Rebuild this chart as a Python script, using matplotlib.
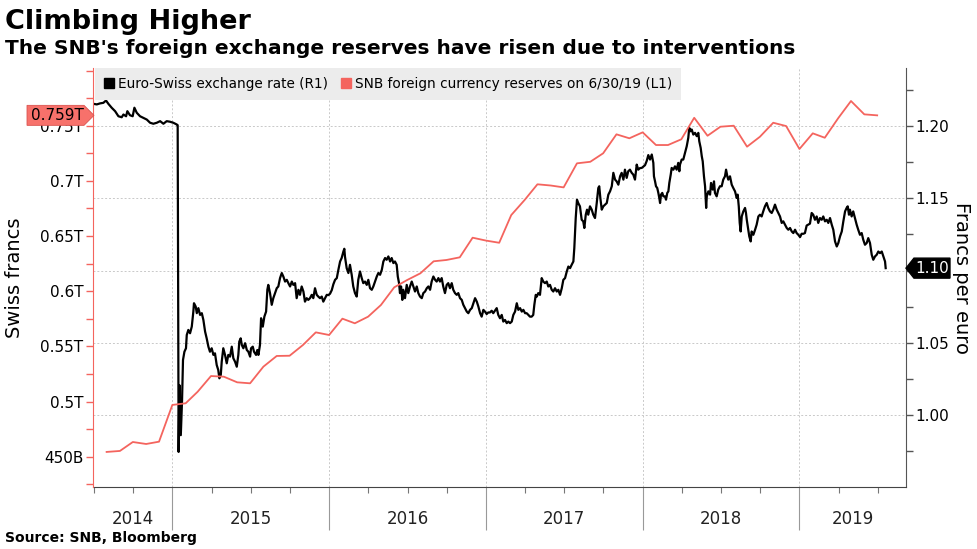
import numpy as np
import pandas as pd
import matplotlib
matplotlib.use('Agg')
import matplotlib.pyplot as plt
from matplotlib.lines import Line2D
from matplotlib.patches import Polygon
from matplotlib.transforms import IdentityTransform, blended_transform_factory

# SNB foreign currency reserves (CHF trillions), month ends from Jul 2014 to Jun 2019
res_start = '2014-07-31'
reserves = [0.4543, 0.4552, 0.4633, 0.4615, 0.4636, 0.4969,
            0.4984, 0.5089, 0.5231, 0.5225, 0.5174, 0.5165, 0.5316, 0.5413, 0.5415, 0.5512, 0.5627, 0.5603,
            0.5751, 0.5709, 0.5769, 0.5875, 0.6035, 0.6101, 0.6162, 0.6271, 0.6283, 0.6307, 0.6485, 0.6459,
            0.6439, 0.6690, 0.6826, 0.6969, 0.6958, 0.6941, 0.7159, 0.7173, 0.7250, 0.7422, 0.7386, 0.7440,
            0.7325, 0.7325, 0.7377, 0.7572, 0.7409, 0.7491, 0.7500, 0.7310, 0.7400, 0.7527, 0.7497, 0.7289,
            0.7431, 0.7391, 0.7567, 0.7724, 0.7603, 0.7594]

# EUR/CHF (decimal years, francs per euro)
fx_t = [2014.496, 2014.518, 2014.539, 2014.560, 2014.577, 2014.592, 2014.613, 2014.635, 2014.656, 2014.677,
        2014.688, 2014.705, 2014.713, 2014.730, 2014.747, 2014.758, 2014.773, 2014.794, 2014.815, 2014.837,
        2014.858, 2014.879, 2014.901, 2014.922, 2014.943, 2014.964, 2014.985, 2015.006, 2015.028, 2015.034,
        2015.040, 2015.045, 2015.054, 2015.062, 2015.068, 2015.077, 2015.087, 2015.092, 2015.102, 2015.113,
        2015.124, 2015.134, 2015.138, 2015.149, 2015.156, 2015.166, 2015.177, 2015.188, 2015.198, 2015.209,
        2015.219, 2015.230, 2015.240, 2015.251, 2015.262, 2015.272, 2015.283, 2015.293, 2015.300, 2015.309,
        2015.315, 2015.325, 2015.336, 2015.347, 2015.357, 2015.368, 2015.379, 2015.389, 2015.400, 2015.411,
        2015.421, 2015.427, 2015.436, 2015.443, 2015.453, 2015.464, 2015.475, 2015.485, 2015.496, 2015.502,
        2015.513, 2015.521, 2015.534, 2015.542, 2015.549, 2015.559, 2015.566, 2015.577, 2015.587, 2015.598,
        2015.606, 2015.612, 2015.623, 2015.634, 2015.644, 2015.655, 2015.666, 2015.676, 2015.687, 2015.698,
        2015.708, 2015.719, 2015.730, 2015.740, 2015.751, 2015.762, 2015.772, 2015.783, 2015.793, 2015.804,
        2015.814, 2015.825, 2015.836, 2015.846, 2015.857, 2015.867, 2015.878, 2015.889, 2015.899, 2015.910,
        2015.921, 2015.931, 2015.942, 2015.953, 2015.963, 2015.974, 2015.985, 2015.995, 2016.006, 2016.017,
        2016.027, 2016.038, 2016.049, 2016.059, 2016.070, 2016.080, 2016.091, 2016.097, 2016.101, 2016.112,
        2016.123, 2016.133, 2016.144, 2016.154, 2016.165, 2016.176, 2016.186, 2016.197, 2016.208, 2016.218,
        2016.229, 2016.240, 2016.250, 2016.261, 2016.272, 2016.282, 2016.293, 2016.304, 2016.314, 2016.325,
        2016.336, 2016.346, 2016.357, 2016.367, 2016.378, 2016.389, 2016.399, 2016.410, 2016.420, 2016.431,
        2016.438, 2016.446, 2016.452, 2016.459, 2016.467, 2016.473, 2016.484, 2016.495, 2016.505, 2016.516,
        2016.527, 2016.537, 2016.548, 2016.559, 2016.569, 2016.580, 2016.591, 2016.601, 2016.612, 2016.623,
        2016.633, 2016.644, 2016.654, 2016.665, 2016.676, 2016.686, 2016.697, 2016.707, 2016.718, 2016.728,
        2016.739, 2016.750, 2016.760, 2016.771, 2016.782, 2016.792, 2016.803, 2016.814, 2016.824, 2016.835,
        2016.846, 2016.856, 2016.867, 2016.878, 2016.888, 2016.899, 2016.910, 2016.920, 2016.931, 2016.942,
        2016.952, 2016.963, 2016.973, 2016.984, 2016.994, 2017.005, 2017.015, 2017.026, 2017.037, 2017.047,
        2017.058, 2017.069, 2017.079, 2017.090, 2017.101, 2017.111, 2017.122, 2017.133, 2017.143, 2017.154,
        2017.165, 2017.175, 2017.186, 2017.197, 2017.207, 2017.218, 2017.229, 2017.239, 2017.250, 2017.260,
        2017.271, 2017.281, 2017.292, 2017.302, 2017.309, 2017.318, 2017.325, 2017.334, 2017.345, 2017.356,
        2017.366, 2017.377, 2017.388, 2017.398, 2017.409, 2017.420, 2017.430, 2017.441, 2017.452, 2017.462,
        2017.473, 2017.484, 2017.494, 2017.505, 2017.516, 2017.526, 2017.537, 2017.547, 2017.558, 2017.564,
        2017.573, 2017.581, 2017.589, 2017.600, 2017.611, 2017.621, 2017.628, 2017.637, 2017.645, 2017.653,
        2017.664, 2017.675, 2017.685, 2017.696, 2017.707, 2017.717, 2017.723, 2017.730, 2017.739, 2017.749,
        2017.760, 2017.771, 2017.781, 2017.792, 2017.803, 2017.813, 2017.824, 2017.834, 2017.845, 2017.856,
        2017.866, 2017.877, 2017.887, 2017.898, 2017.908, 2017.919, 2017.930, 2017.940, 2017.951, 2017.962,
        2017.972, 2017.983, 2017.994, 2018.004, 2018.015, 2018.026, 2018.036, 2018.047, 2018.058, 2018.068,
        2018.072, 2018.079, 2018.085, 2018.093, 2018.100, 2018.106, 2018.111, 2018.117, 2018.125, 2018.132,
        2018.142, 2018.149, 2018.157, 2018.164, 2018.170, 2018.179, 2018.185, 2018.196, 2018.206, 2018.217,
        2018.227, 2018.234, 2018.238, 2018.249, 2018.259, 2018.270, 2018.281, 2018.291, 2018.297, 2018.306,
        2018.313, 2018.323, 2018.334, 2018.345, 2018.355, 2018.361, 2018.370, 2018.377, 2018.383, 2018.391,
        2018.398, 2018.405, 2018.409, 2018.419, 2018.430, 2018.436, 2018.447, 2018.455, 2018.461, 2018.472,
        2018.482, 2018.493, 2018.504, 2018.514, 2018.525, 2018.532, 2018.540, 2018.546, 2018.557, 2018.568,
        2018.578, 2018.589, 2018.600, 2018.606, 2018.613, 2018.619, 2018.625, 2018.632, 2018.642, 2018.653,
        2018.659, 2018.664, 2018.674, 2018.680, 2018.689, 2018.695, 2018.706, 2018.717, 2018.727, 2018.738,
        2018.748, 2018.759, 2018.769, 2018.780, 2018.791, 2018.801, 2018.812, 2018.823, 2018.833, 2018.844,
        2018.855, 2018.865, 2018.876, 2018.887, 2018.897, 2018.908, 2018.919, 2018.929, 2018.940, 2018.951,
        2018.961, 2018.972, 2018.982, 2018.993, 2019.004, 2019.014, 2019.025, 2019.035, 2019.046, 2019.056,
        2019.067, 2019.078, 2019.088, 2019.099, 2019.110, 2019.120, 2019.131, 2019.142, 2019.152, 2019.163,
        2019.174, 2019.184, 2019.195, 2019.206, 2019.216, 2019.227, 2019.238, 2019.248, 2019.259, 2019.270,
        2019.280, 2019.291, 2019.301, 2019.308, 2019.316, 2019.322, 2019.333, 2019.343, 2019.354, 2019.365,
        2019.375, 2019.386, 2019.397, 2019.407, 2019.418, 2019.429, 2019.439, 2019.450, 2019.461, 2019.471,
        2019.482, 2019.493, 2019.503, 2019.514, 2019.525, 2019.535, 2019.546, 2019.550]
fx_v = [1.2155, 1.2151, 1.2158, 1.2162, 1.2178, 1.2155, 1.2128, 1.2104, 1.2069, 1.2062,
        1.2081, 1.2069, 1.2104, 1.2076, 1.2069, 1.2128, 1.2093, 1.2069, 1.2058, 1.2046,
        1.2024, 1.2017, 1.2024, 1.2035, 1.2017, 1.2035, 1.2031, 1.2024, 1.2012, 1.2007,
        0.9744, 1.0207, 0.9860, 1.0103, 1.0381, 1.0438, 1.0462, 1.0554, 1.0589, 1.0566,
        1.0612, 1.0716, 1.0774, 1.0751, 1.0705, 1.0740, 1.0693, 1.0705, 1.0658, 1.0577,
        1.0531, 1.0473, 1.0438, 1.0462, 1.0416, 1.0427, 1.0346, 1.0311, 1.0254, 1.0277,
        1.0369, 1.0462, 1.0416, 1.0358, 1.0416, 1.0404, 1.0473, 1.0393, 1.0369, 1.0334,
        1.0416, 1.0508, 1.0531, 1.0485, 1.0462, 1.0497, 1.0450, 1.0438, 1.0404, 1.0462,
        1.0473, 1.0438, 1.0416, 1.0450, 1.0416, 1.0485, 1.0670, 1.0612, 1.0681, 1.0716,
        1.0867, 1.0901, 1.0844, 1.0763, 1.0809, 1.0844, 1.0878, 1.0890, 1.0948, 1.0983,
        1.0959, 1.0924, 1.0936, 1.0913, 1.0890, 1.0924, 1.0901, 1.0913, 1.0809, 1.0867,
        1.0832, 1.0890, 1.0855, 1.0785, 1.0809, 1.0797, 1.0809, 1.0832, 1.0809, 1.0878,
        1.0832, 1.0820, 1.0809, 1.0820, 1.0785, 1.0809, 1.0832, 1.0830, 1.0840, 1.0865,
        1.0905, 1.0936, 1.0948, 1.1005, 1.1063, 1.1087, 1.1132, 1.1151, 1.1098, 1.1017,
        1.0983, 1.1040, 1.0971, 1.0890, 1.0844, 1.0820, 1.0936, 1.0994, 1.0948, 1.0913,
        1.0924, 1.0901, 1.0936, 1.0878, 1.0867, 1.0890, 1.0924, 1.0959, 1.0983, 1.0971,
        1.1005, 1.1063, 1.1087, 1.1075, 1.1098, 1.1063, 1.1087, 1.1052, 1.1063, 1.1040,
        1.0959, 1.0913, 1.0844, 1.0890, 1.0797, 1.0867, 1.0809, 1.0901, 1.0844, 1.0890,
        1.0924, 1.0890, 1.0855, 1.0890, 1.0844, 1.0820, 1.0809, 1.0844, 1.0855, 1.0878,
        1.0890, 1.0867, 1.0924, 1.0959, 1.0936, 1.0924, 1.0948, 1.0924, 1.0948, 1.0890,
        1.0844, 1.0901, 1.0913, 1.0878, 1.0913, 1.0867, 1.0844, 1.0832, 1.0844, 1.0809,
        1.0797, 1.0763, 1.0740, 1.0716, 1.0705, 1.0728, 1.0740, 1.0774, 1.0809, 1.0785,
        1.0751, 1.0705, 1.0681, 1.0728, 1.0716, 1.0699, 1.0710, 1.0710, 1.0722, 1.0705,
        1.0722, 1.0740, 1.0693, 1.0670, 1.0693, 1.0647, 1.0658, 1.0636, 1.0647, 1.0636,
        1.0647, 1.0693, 1.0716, 1.0774, 1.0728, 1.0740, 1.0716, 1.0728, 1.0705, 1.0705,
        1.0693, 1.0681, 1.0681, 1.0693, 1.0763, 1.0832, 1.0820, 1.0844, 1.0832, 1.0948,
        1.0924, 1.0913, 1.0924, 1.0890, 1.0901, 1.0867, 1.0855, 1.0878, 1.0855, 1.0867,
        1.0832, 1.0878, 1.0936, 1.0948, 1.0994, 1.1028, 1.1017, 1.1040, 1.1063, 1.1156,
        1.1364, 1.1491, 1.1468, 1.1445, 1.1352, 1.1341, 1.1295, 1.1387, 1.1422, 1.1387,
        1.1445, 1.1422, 1.1387, 1.1364, 1.1468, 1.1572, 1.1584, 1.1503, 1.1422, 1.1445,
        1.1457, 1.1468, 1.1526, 1.1549, 1.1584, 1.1677, 1.1630, 1.1618, 1.1595, 1.1653,
        1.1677, 1.1630, 1.1699, 1.1642, 1.1688, 1.1699, 1.1677, 1.1665, 1.1630, 1.1734,
        1.1699, 1.1710, 1.1711, 1.1720, 1.1730, 1.1760, 1.1800, 1.1769, 1.1804, 1.1746,
        1.1653, 1.1618, 1.1584, 1.1572, 1.1538, 1.1503, 1.1468, 1.1526, 1.1538, 1.1514,
        1.1514, 1.1491, 1.1538, 1.1549, 1.1607, 1.1665, 1.1711, 1.1699, 1.1722, 1.1699,
        1.1746, 1.1688, 1.1734, 1.1769, 1.1769, 1.1815, 1.1861, 1.1919, 1.1989, 1.1965,
        1.1977, 1.1942, 1.1954, 1.1931, 1.1954, 1.1896, 1.1850, 1.1792, 1.1757, 1.1653,
        1.1584, 1.1434, 1.1514, 1.1549, 1.1526, 1.1607, 1.1561, 1.1618, 1.1538, 1.1514,
        1.1561, 1.1584, 1.1584, 1.1630, 1.1653, 1.1699, 1.1653, 1.1630, 1.1653, 1.1595,
        1.1572, 1.1549, 1.1503, 1.1526, 1.1445, 1.1330, 1.1271, 1.1375, 1.1410, 1.1434,
        1.1399, 1.1352, 1.1283, 1.1237, 1.1202, 1.1271, 1.1248, 1.1283, 1.1318, 1.1375,
        1.1387, 1.1375, 1.1410, 1.1445, 1.1468, 1.1434, 1.1410, 1.1399, 1.1422, 1.1457,
        1.1422, 1.1399, 1.1375, 1.1330, 1.1341, 1.1318, 1.1295, 1.1283, 1.1295, 1.1271,
        1.1260, 1.1283, 1.1260, 1.1248, 1.1232, 1.1255, 1.1255, 1.1260, 1.1312, 1.1318,
        1.1325, 1.1399, 1.1387, 1.1352, 1.1375, 1.1330, 1.1364, 1.1352, 1.1375, 1.1341,
        1.1352, 1.1330, 1.1364, 1.1318, 1.1283, 1.1202, 1.1167, 1.1191, 1.1237, 1.1271,
        1.1341, 1.1410, 1.1434, 1.1445, 1.1387, 1.1422, 1.1375, 1.1410, 1.1364, 1.1318,
        1.1283, 1.1248, 1.1260, 1.1214, 1.1179, 1.1191, 1.1225, 1.1191, 1.1110, 1.1075,
        1.1098, 1.1110, 1.1132, 1.1121, 1.1132, 1.1098, 1.1063, 1.1017]

left_ticks = [0.45, 0.50, 0.55, 0.60, 0.65, 0.70, 0.75]
left_labels = ['450B', '0.5T', '0.55T', '0.6T', '0.65T', '0.7T', '0.75T']
right_ticks = [1.00, 1.05, 1.10, 1.15, 1.20]
years = [2014, 2015, 2016, 2017, 2018, 2019]

RED = '#f4645e'
BOX_RED = '#f7716b'
GRID = '#c9c9c9'

dates = pd.date_range(res_start, periods=len(reserves), freq='ME')
res_t = dates.year + dates.dayofyear / np.where(dates.is_leap_year, 366, 365)

fig = plt.figure(figsize=(9.77, 5.49), dpi=100)
axr = fig.add_axes([0.0952, 0.1129, 0.8321, 0.7632])
axl = axr.twinx()
axl.yaxis.tick_left()
axr.yaxis.tick_right()

xmin, xmax = 2014.494, 2019.6795
axr.set_xlim(xmin, xmax)
axr.set_ylim(0.9501, 1.2403)
axl.set_ylim(0.4225, 0.8023)

axr.plot(fx_t, fx_v, color='black', lw=1.6, zorder=3)
axl.plot(res_t, reserves, color=RED, lw=1.3, zorder=3)

# spines
for s in ['top', 'left']:
    axr.spines[s].set_visible(False)
axr.spines['right'].set_color('#555555')
axr.spines['bottom'].set_color('#444444')
for s in ['top', 'right', 'bottom']:
    axl.spines[s].set_visible(False)
axl.spines['left'].set_color(RED)

# y axes
axl.set_yticks(left_ticks)
axl.set_yticklabels(left_labels)
axl.set_yticks(np.arange(0.425, 0.801, 0.025), minor=True)
axl.tick_params(axis='y', which='both', colors=RED, labelcolor='black', length=5, width=1, labelsize=11, pad=2)

axr.set_yticks(right_ticks)
# the 1.10 level is covered by the last-value tag, as in the original
axr.set_yticklabels(['' if abs(v - round(fx_v[-1], 2)) < 1e-9 else f'{v:.2f}' for v in right_ticks])
axr.set_yticks(np.arange(0.975, 1.226, 0.025), minor=True)
axr.tick_params(axis='y', which='both', colors='#555555', labelcolor='black', length=5, width=1, labelsize=11, pad=2)

# x axis: year separators + quarter ticks
axr.set_xticks(years[1:])
axr.set_xticklabels([])
quarters = [y + q for y in years for q in (0.25, 0.5, 0.75) if xmin < y + q < xmax]
axr.set_xticks(quarters, minor=True)
axr.tick_params(axis='x', which='major', length=31, width=0.8, color='#999999')
axr.tick_params(axis='x', which='minor', length=4, width=0.8, color='#777777')

axr.grid(axis='y', which='major', linestyle=(0, (2, 2)), color=GRID, lw=0.7)
axr.grid(axis='x', which='major', linestyle=(0, (2, 2)), color=GRID, lw=0.7)
axr.set_axisbelow(True)

trans = blended_transform_factory(axr.transData, axr.transAxes)
for y in years:
    mid = (max(y, xmin) + min(y + 1, xmax)) / 2
    axr.text(mid, -0.0764, str(y), transform=trans, ha='center', va='center', fontsize=12, color='#222222')

# legend
handles = [Line2D([], [], marker='s', color='black', linestyle='none', markersize=7),
           Line2D([], [], marker='s', color=RED, linestyle='none', markersize=7)]
labels = ['Euro-Swiss exchange rate (R1)', 'SNB foreign currency reserves on 6/30/19 (L1)']
leg = axl.legend(handles, labels, loc='upper left', bbox_to_anchor=(0.003, 1.0), ncol=2,
                 fontsize=9.8, handlelength=0.7, handletextpad=0.3, columnspacing=1.0,
                 borderpad=0.65, borderaxespad=0, frameon=True, fancybox=False)
leg.get_frame().set_facecolor('#ececec')
leg.get_frame().set_edgecolor('none')
leg.get_frame().set_alpha(1)

# last-value tags
ident = IdentityTransform()
xs_l = axl.transAxes.transform((0, 0))[0]
yc_l = axl.transData.transform((xmin, reserves[-1]))[1]
fig.add_artist(Polygon([(xs_l - 66, yc_l - 10), (xs_l - 9, yc_l - 10), (xs_l + 1, yc_l),
                        (xs_l - 9, yc_l + 10), (xs_l - 66, yc_l + 10)],
                       closed=True, facecolor=BOX_RED, edgecolor='#d9534f', lw=0.6, transform=ident))
fig.text(xs_l - 36, yc_l, f'{reserves[-1]:.3f}T', transform=ident, ha='center', va='center',
         fontsize=11, color='black')

xs_r = axr.transAxes.transform((1, 0))[0]
yc_r = axr.transData.transform((xmin, fx_v[-1]))[1]
fig.add_artist(Polygon([(xs_r, yc_r), (xs_r + 8, yc_r - 10), (xs_r + 44, yc_r - 10),
                        (xs_r + 44, yc_r + 10), (xs_r + 8, yc_r + 10)],
                       closed=True, facecolor='black', edgecolor='black', transform=ident))
fig.text(xs_r + 26, yc_r, f'{fx_v[-1]:.2f}', transform=ident, ha='center', va='center',
         fontsize=11, color='white')

# axis titles
fig.text(15 / 977, 0.4945, 'Swiss francs', rotation=90, ha='center', va='center', fontsize=14)
fig.text(962 / 977, 0.4945, 'Francs per euro', rotation=270, ha='center', va='center', fontsize=14)

# titles / source
fig.text(0.005, 0.9472, 'Climbing Higher', fontsize=19.5, fontweight='bold', va='baseline')
fig.text(0.005, 0.9016, "The SNB's foreign exchange reserves have risen due to interventions",
         fontsize=14.5, fontweight='bold', va='baseline')
fig.text(0.005, 0.012, 'Source: SNB, Bloomberg', fontsize=10, fontweight='bold', va='baseline')

fig.savefig('out.png', dpi=100)
